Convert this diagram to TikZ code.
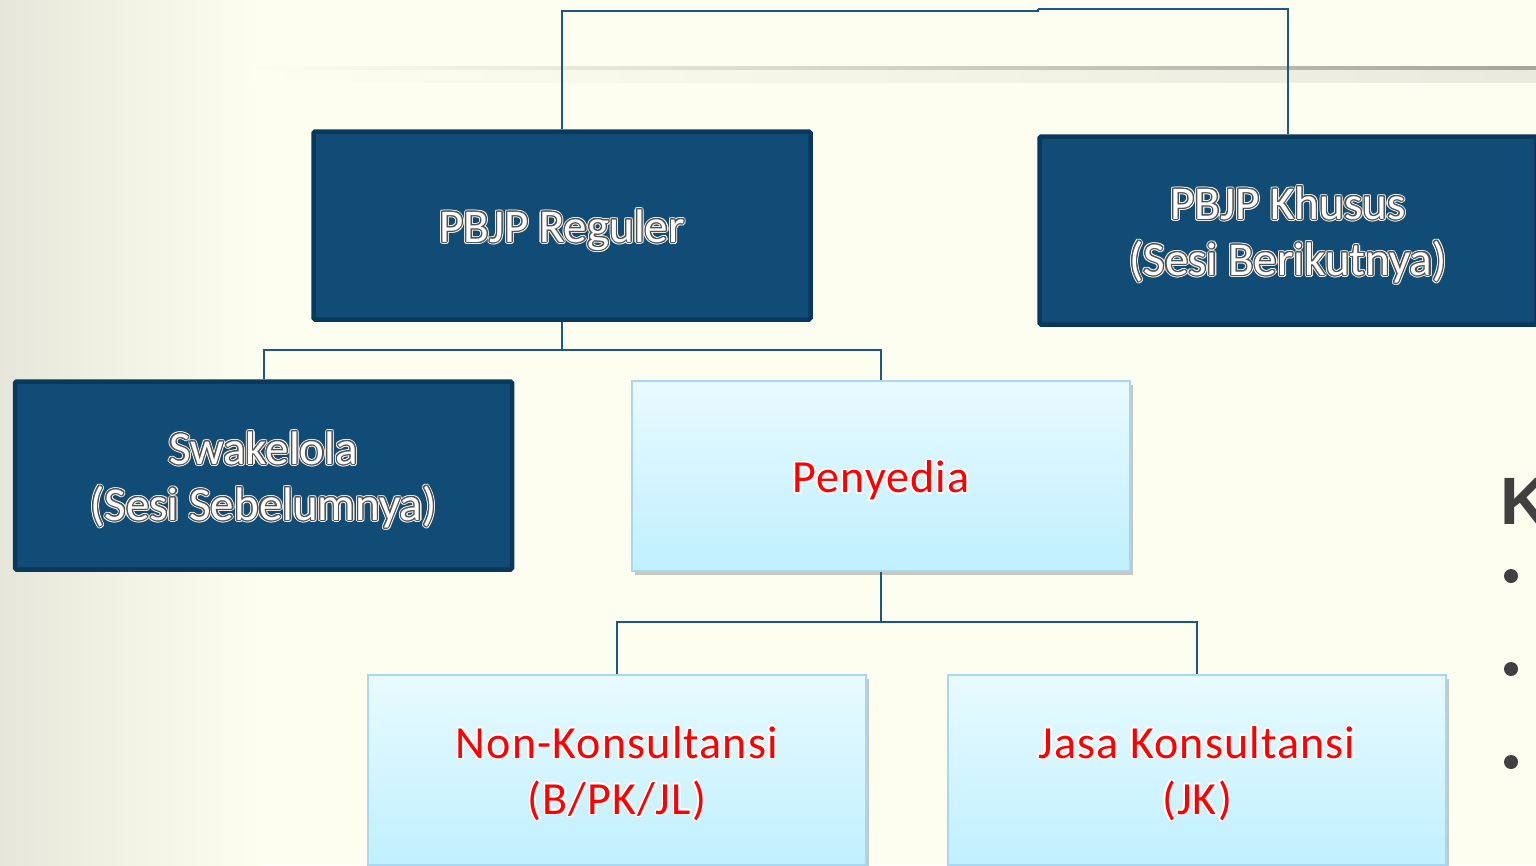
\documentclass[tikz,border=0pt]{standalone}
\usepackage{fontspec}
\setmainfont{Carlito}
\newfontfamily\arialbold{Liberation Sans}[BoldFont=* Bold]
\usepackage[copies]{contour}
\usetikzlibrary{shadows}
\definecolor{bgcream}{RGB}{254,254,240}
\definecolor{bgleft}{RGB}{230,230,218}
\definecolor{darkfill}{RGB}{17,76,119}
\definecolor{darkedge}{RGB}{10,56,92}
\definecolor{linkblue}{RGB}{26,88,138}
\definecolor{lighttop}{RGB}{232,250,255}
\definecolor{lightbot}{RGB}{192,240,255}
\definecolor{lightedge}{RGB}{170,215,240}
\definecolor{outl}{RGB}{80,80,80}
\definecolor{glowc}{RGB}{235,235,225}
\definecolor{bulletc}{RGB}{64,64,64}
\newcommand{\olt}[1]{\rlap{\contourlength{2.2pt}\contour{glowc}{#1}}\contourlength{1.1pt}\contour{outl}{\textcolor{white}{#1}}}
\newcommand{\glt}[1]{\contourlength{1.6pt}\contour{white}{#1}}
% lowers the text block inside its box
\newcommand{\tx}[2][11pt]{\raisebox{0pt}[\dimexpr\height+#1\relax]{\begin{tabular}{@{}c@{}}#2\end{tabular}}}
\tikzset{
  darkbox/.style={draw=darkedge, line width=4.5pt, fill=darkfill, rounded corners=1.5pt,
    minimum width=497pt, minimum height=188pt, inner sep=0pt, align=center,
    font=\fontsize{47}{56}\selectfont, text=white},
  lightbox/.style={draw=lightedge, line width=2pt, top color=lighttop, bottom color=lightbot,
    minimum width=498pt, minimum height=190pt, inner sep=0pt, align=center,
    drop shadow={shadow xshift=3pt, shadow yshift=-4pt, opacity=0.35, fill=black!60},
    font=\fontsize{46}{56}\selectfont\addfontfeature{LetterSpace=2.5}, text=red},
  link/.style={draw=linkblue, line width=2pt},
  bullet/.style={circle, fill=bulletc, minimum size=14pt, inner sep=0pt}
}
\begin{document}
\begin{tikzpicture}[x=1pt,y=-1pt]
\useasboundingbox (0,0) rectangle (1536,865);
% background
\fill[bgcream] (0,0) rectangle (1536,865);
\shade[left color=bgleft, right color=bgcream] (0,0) rectangle (260,865);
% horizontal rule with shadow
\shade[left color=bgcream, right color=black!8!bgcream] (250,69) rectangle (1536,82);
\shade[left color=bgcream, right color=black!35!bgcream] (250,66.5) rectangle (1536,69.5);
% nodes
\node[darkbox] (reg) at (562,225.5) {\tx{\olt{PBJP Reguler}}};
\node[darkbox] (khu) at (1288,230.5) {\tx{\olt{PBJP Khusus}\\\olt{(Sesi Berikutnya)}}};
\node[darkbox] (swa) at (263.5,475.5) {\tx{\olt{Swakelola}\\\olt{(Sesi Sebelumnya)}}};
\node[lightbox] (pen) at (881,476) {\tx{\glt{Penyedia}}};
\node[lightbox] (nonk) at (617,769.5) {\tx{\glt{Non-Konsultansi}\\\glt{(B/PK/JL)}}};
\node[lightbox] (jasa) at (1197,769.5) {\tx{\glt{Jasa Konsultansi}\\\glt{(JK)}}};
% connector coordinates
\coordinate (topA) at (1038,11);
\coordinate (topB) at (1038,8.5);
\coordinate (j1) at (562,350);
\coordinate (j2) at (881,622);
% connectors
\draw[link] (reg.north) |- (topA) -- ++(0,-2.5);
\draw[link] (khu.north) |- (topB);
\draw[link] (reg.south) -- (j1);
\draw[link] (swa.north) |- (j1) -| (pen.north);
\draw[link] (pen.south) -- (j2);
\draw[link] (nonk.north) |- (j2) -| (jasa.north);
% right edge partial content
\node[anchor=base west, inner sep=0pt, text=bulletc, font=\arialbold\bfseries\fontsize{67}{67}\selectfont] (kk) at (1500,524) {K};
\node[bullet] (b1) at (1511,576) {};
\node[bullet] (b2) at (1511,669) {};
\node[bullet] (b3) at (1511,762) {};
\end{tikzpicture}
\end{document}
